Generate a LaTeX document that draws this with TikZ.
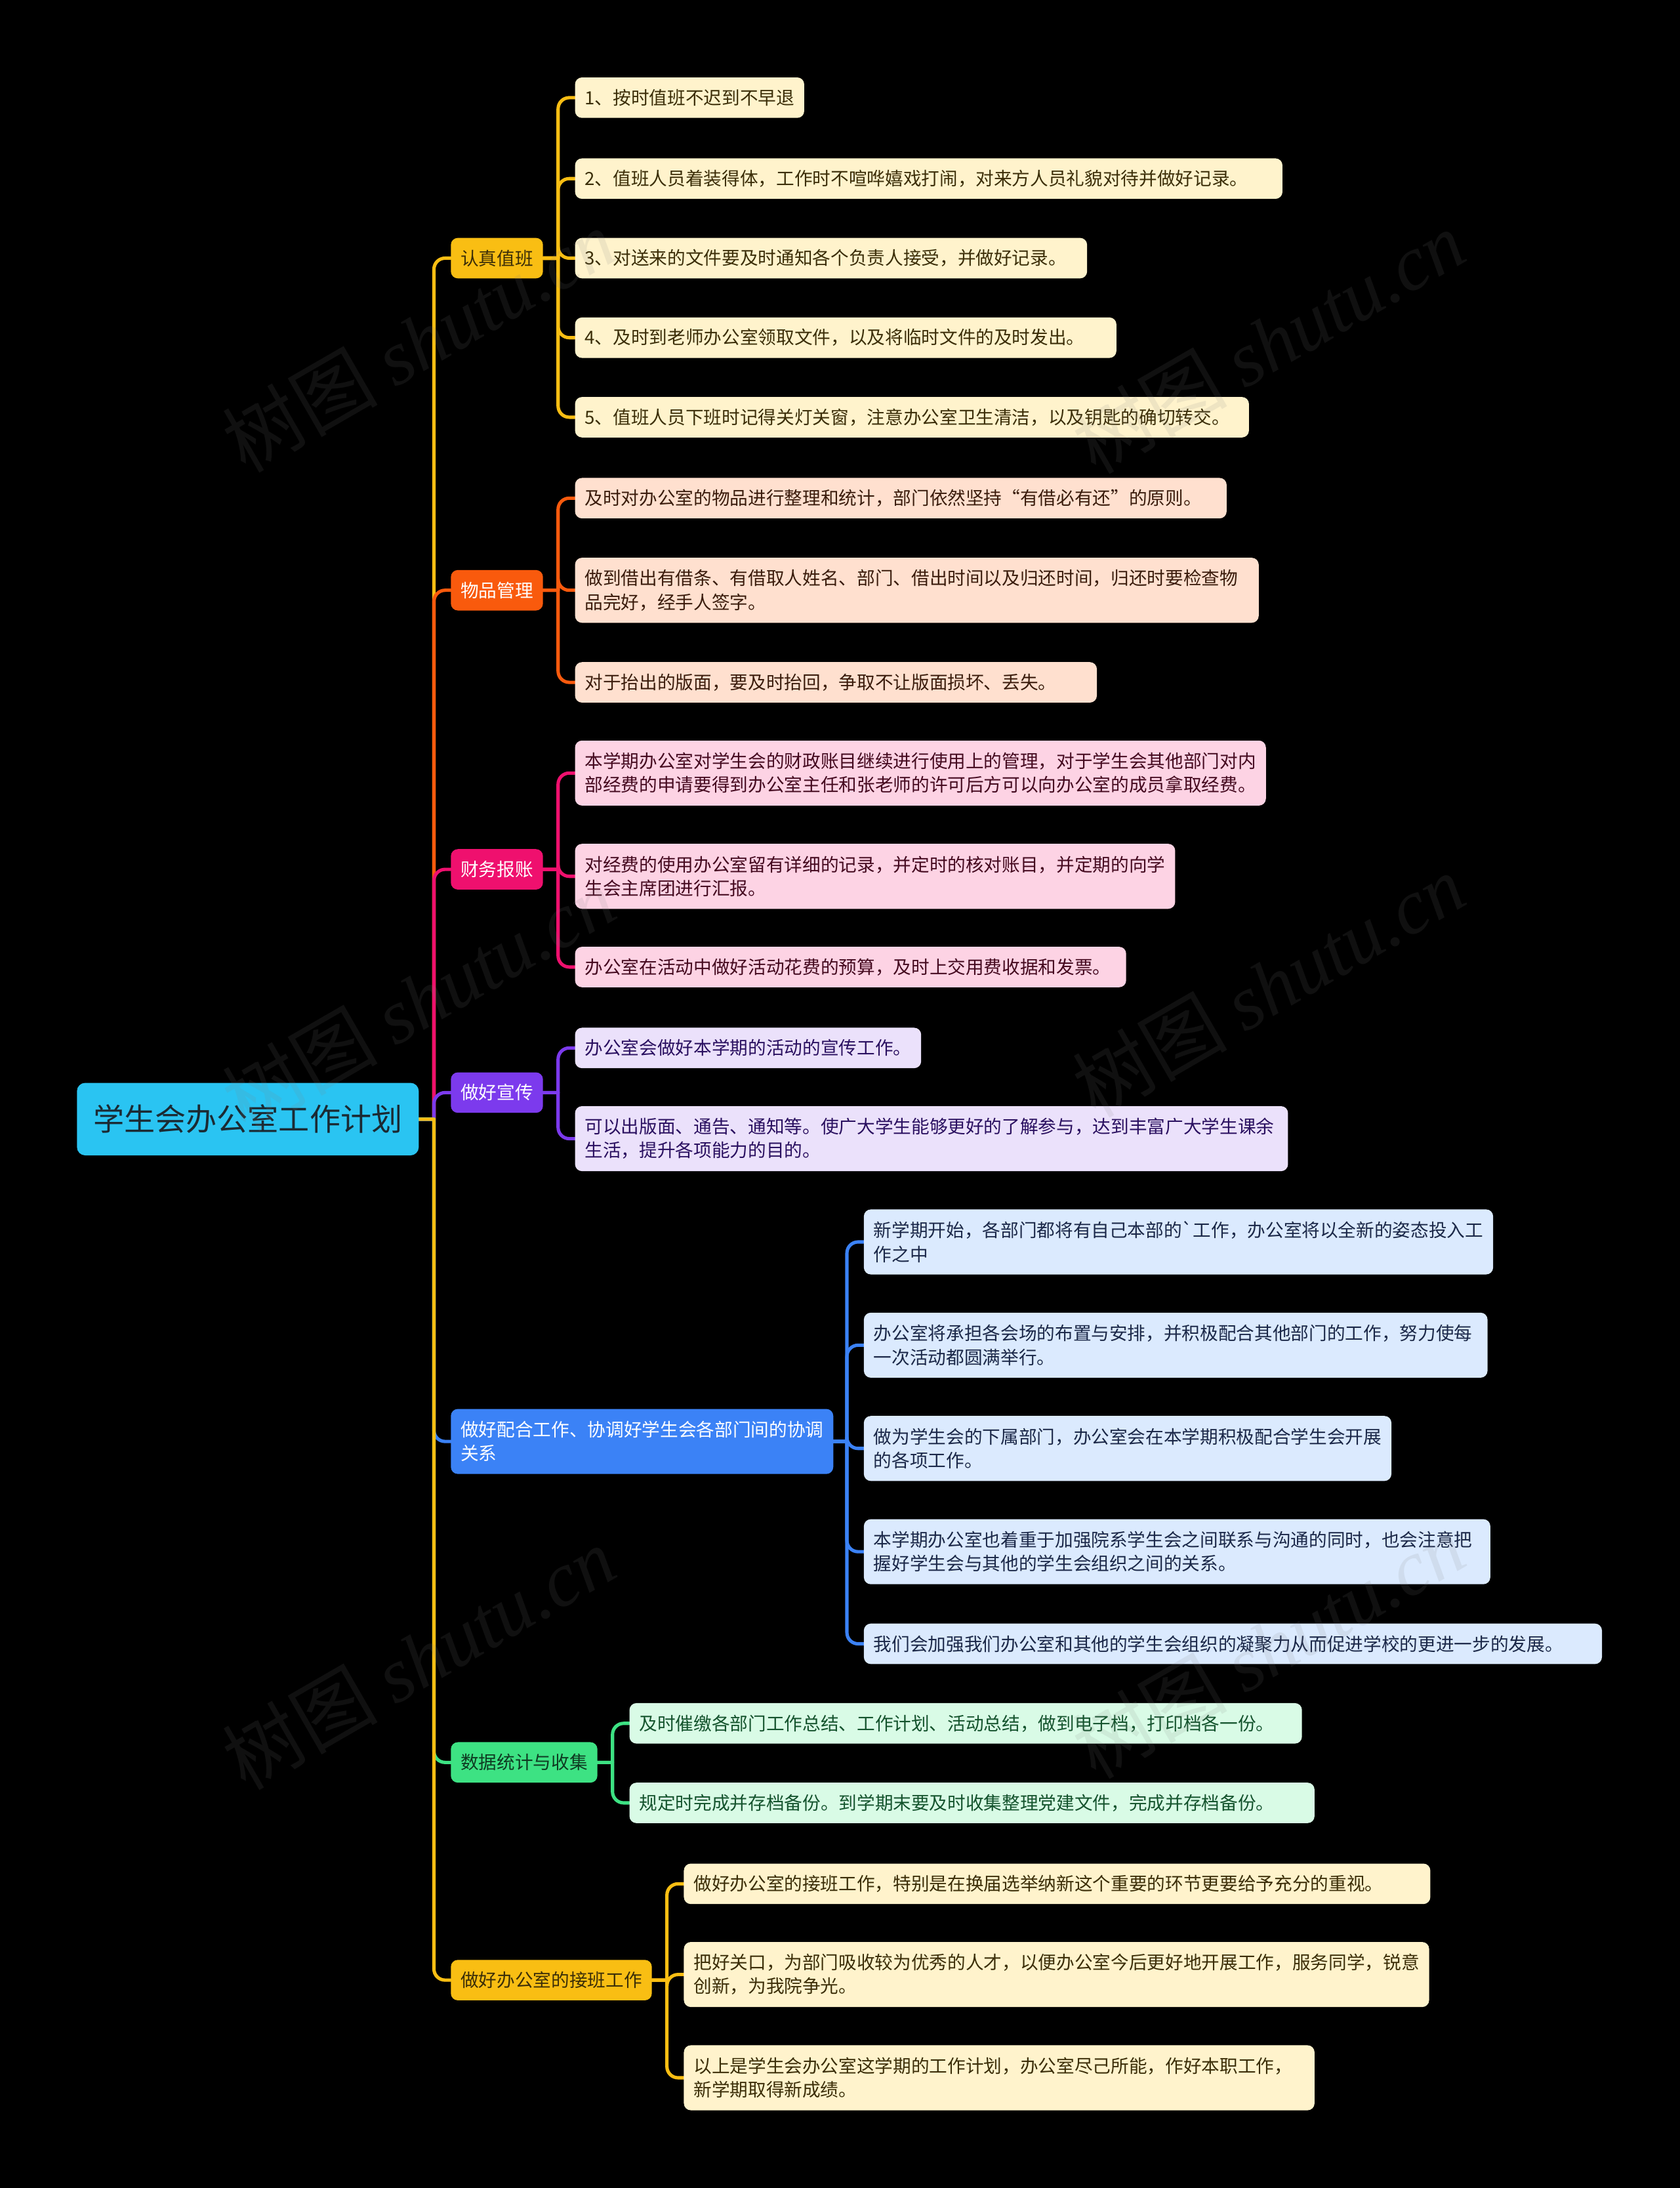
\documentclass[tikz,border=0pt]{standalone}
\usepackage{fontspec}
\setmainfont{Noto Sans CJK SC}
\newfontfamily\wmlatin{Liberation Serif}
\pgfdeclarelayer{bgzero}
\pgfdeclarelayer{bgone}
\pgfsetlayers{bgzero,bgone,main}
\definecolor{cRoot}{HTML}{2AC4F2}
\definecolor{tRoot}{HTML}{1B2A33}
\definecolor{cYb}{HTML}{F9BE13}
\definecolor{cYl}{HTML}{FFF3CC}
\definecolor{tYl}{HTML}{3B2E08}
\definecolor{cOr}{HTML}{F95A0D}
\definecolor{cOl}{HTML}{FFE0CF}
\definecolor{tOl}{HTML}{3A1C0C}
\definecolor{cPk}{HTML}{EF106E}
\definecolor{cPl}{HTML}{FDD3E4}
\definecolor{tPl}{HTML}{44091F}
\definecolor{cPu}{HTML}{7C3AED}
\definecolor{cUl}{HTML}{EBE1FB}
\definecolor{tUl}{HTML}{2A1060}
\definecolor{cBl}{HTML}{3B82F6}
\definecolor{cBll}{HTML}{DBEAFE}
\definecolor{tBl}{HTML}{1B2848}
\definecolor{cGr}{HTML}{3DE283}
\definecolor{cGl}{HTML}{D9FBE6}
\definecolor{tGl}{HTML}{14532D}
\definecolor{tGb}{HTML}{0F3B22}
\newcommand{\linkto}[3]{%
  \path ([xshift=-6mm]#3.west) coordinate (vx);
  \draw[connector,#1] (#2.east) -- (vx |- #2.east) (vx |- #2.east) [rounded corners=4mm] |- (#3.west);}
\begin{document}
\begin{tikzpicture}[x=0.5mm,y=-0.5mm,
  base/.style={rounded corners=2.5mm, inner xsep=3.5mm, inner ysep=1mm, anchor=west, align=left, font=\fontsize{18.5}{24.2}\selectfont},
  one/.style={minimum height=14.5mm},
  two/.style={minimum height=23.3mm},
  bw/.style={text width=#1},
  root/.style={rounded corners=3mm, fill=cRoot, text=tRoot, anchor=west, minimum width=122.5mm, minimum height=26mm, font=\fontsize{31.5}{36}\selectfont},
  leafY/.style={base, fill=cYl, text=tYl},
  leafO/.style={base, fill=cOl, text=tOl},
  leafP/.style={base, fill=cPl, text=tPl},
  leafU/.style={base, fill=cUl, text=tUl},
  leafB/.style={base, fill=cBll, text=tBl},
  leafG/.style={base, fill=cGl, text=tGl},
  connector/.style={line width=1.2mm, line cap=round},
  wm/.style={rotate=30, text=gray, text opacity=0.13, font=\fontsize{79}{85}\selectfont}
]
\begin{pgfonlayer}{bgzero}
\fill[black] (0,0) rectangle (1204,1568);
\end{pgfonlayer}
\useasboundingbox (0,0) rectangle (1204,1568);

% root
\node[root] (root) at (55,802) {学生会办公室工作计划};

% branches
\node[base,one,fill=cYb,text=tYl] (b1) at (323,185) {认真值班};
\node[base,one,fill=cOr,text=white] (b2) at (323,423) {物品管理};
\node[base,one,fill=cPk,text=white] (b3) at (323,623) {财务报账};
\node[base,one,fill=cPu,text=white] (b4) at (323,783) {做好宣传};
\node[base,two,fill=cBl,text=white] (b5) at (323,1033) {做好配合工作、协调好学生会各部门间的协调\\关系};
\node[base,one,fill=cGr,text=tGb] (b6) at (323,1263) {数据统计与收集};
\node[base,one,fill=cYb,text=tYl] (b7) at (323,1419) {做好办公室的接班工作};

% leaves of b1
\node[leafY,one] (a1) at (412,70) {1、按时值班不迟到不早退};
\node[leafY,one,bw=246.5mm] (a2) at (412,128) {2、值班人员着装得体，工作时不喧哗嬉戏打闹，对来方人员礼貌对待并做好记录。};
\node[leafY,one,bw=176.5mm] (a3) at (412,185) {3、对送来的文件要及时通知各个负责人接受，并做好记录。};
\node[leafY,one,bw=187mm] (a4) at (412,242) {4、及时到老师办公室领取文件，以及将临时文件的及时发出。};
\node[leafY,one,bw=234.5mm] (a5) at (412,299) {5、值班人员下班时记得关灯关窗，注意办公室卫生清洁，以及钥匙的确切转交。};

% leaves of b2
\node[leafO,one,bw=226.5mm] (o1) at (412,357) {及时对办公室的物品进行整理和统计，部门依然坚持“有借必有还”的原则。};
\node[leafO,two,bw=238mm] (o2) at (412,423) {做到借出有借条、有借取人姓名、部门、借出时间以及归还时间，归还时要检查物\\品完好，经手人签字。};
\node[leafO,one,bw=180mm] (o3) at (412,489) {对于抬出的版面，要及时抬回，争取不让版面损坏、丢失。};

% leaves of b3
\node[leafP,two] (p1) at (412,554) {本学期办公室对学生会的财政账目继续进行使用上的管理，对于学生会其他部门对内\\部经费的申请要得到办公室主任和张老师的许可后方可以向办公室的成员拿取经费。};
\node[leafP,two] (p2) at (412,628) {对经费的使用办公室留有详细的记录，并定时的核对账目，并定期的向学\\生会主席团进行汇报。};
\node[leafP,one,bw=190.5mm] (p3) at (412,693) {办公室在活动中做好活动花费的预算，及时上交用费收据和发票。};

% leaves of b4
\node[leafU,one] (u1) at (412,751) {办公室会做好本学期的活动的宣传工作。};
\node[leafU,two,bw=248.5mm] (u2) at (412,816) {可以出版面、通告、通知等。使广大学生能够更好的了解参与，达到丰富广大学生课余\\生活，提升各项能力的目的。};

% leaves of b5
\node[leafB,two] (c1) at (619,890) {新学期开始，各部门都将有自己本部的\textasciigrave 工作，办公室将以全新的姿态投入工\\作之中};
\node[leafB,two,bw=216.5mm] (c2) at (619,964) {办公室将承担各会场的布置与安排，并积极配合其他部门的工作，努力使每\\一次活动都圆满举行。};
\node[leafB,two] (c3) at (619,1038) {做为学生会的下属部门，办公室会在本学期积极配合学生会开展\\的各项工作。};
\node[leafB,two,bw=217.5mm] (c4) at (619,1112) {本学期办公室也着重于加强院系学生会之间联系与沟通的同时，也会注意把\\握好学生会与其他的学生会组织之间的关系。};
\node[leafB,one,bw=257.5mm] (c5) at (619,1178) {我们会加强我们办公室和其他的学生会组织的凝聚力从而促进学校的更进一步的发展。};

% leaves of b6
\node[leafG,one,bw=234mm] (g1) at (451,1235) {及时催缴各部门工作总结、工作计划、活动总结，做到电子档，打印档各一份。};
\node[leafG,one,bw=238.5mm] (g2) at (451,1292) {规定时完成并存档备份。到学期末要及时收集整理党建文件，完成并存档备份。};

% leaves of b7
\node[leafY,one,bw=260.5mm] (j1) at (490,1350) {做好办公室的接班工作，特别是在换届选举纳新这个重要的环节更要给予充分的重视。};
\node[leafY,two] (j2) at (490,1415) {把好关口，为部门吸收较为优秀的人才，以便办公室今后更好地开展工作，服务同学，锐意\\创新，为我院争光。};
\node[leafY,two,bw=219mm] (j3) at (490,1489) {以上是学生会办公室这学期的工作计划，办公室尽己所能，作好本职工作，\\新学期取得新成绩。};

\begin{pgfonlayer}{bgone}
% root to branches
\linkto{cYb}{root}{b1}
\linkto{cOr}{root}{b2}
\linkto{cPk}{root}{b3}
\linkto{cPu}{root}{b4}
\linkto{cBl}{root}{b5}
\linkto{cGr}{root}{b6}
\linkto{cYb}{root}{b7}
% b1
\linkto{cYb}{b1}{a1}
\linkto{cYb}{b1}{a2}
\linkto{cYb}{b1}{a3}
\linkto{cYb}{b1}{a4}
\linkto{cYb}{b1}{a5}
% b2
\linkto{cOr}{b2}{o1}
\linkto{cOr}{b2}{o2}
\linkto{cOr}{b2}{o3}
% b3
\linkto{cPk}{b3}{p1}
\linkto{cPk}{b3}{p2}
\linkto{cPk}{b3}{p3}
% b4
\linkto{cPu}{b4}{u1}
\linkto{cPu}{b4}{u2}
% b5
\linkto{cBl}{b5}{c1}
\linkto{cBl}{b5}{c2}
\linkto{cBl}{b5}{c3}
\linkto{cBl}{b5}{c4}
\linkto{cBl}{b5}{c5}
% b6
\linkto{cGr}{b6}{g1}
\linkto{cGr}{b6}{g2}
% b7
\linkto{cYb}{b7}{j1}
\linkto{cYb}{b7}{j2}
\linkto{cYb}{b7}{j3}
\end{pgfonlayer}

% watermarks
\node[wm] (w1) at (300,244) {树图 {\wmlatin\itshape shutu.cn}};
\node[wm] (w2) at (909,245) {树图 {\wmlatin\itshape shutu.cn}};
\node[wm] (w3) at (300,716) {树图 {\wmlatin\itshape shutu.cn}};
\node[wm] (w4) at (909,706) {树图 {\wmlatin\itshape shutu.cn}};
\node[wm] (w5) at (300,1188) {树图 {\wmlatin\itshape shutu.cn}};
\node[wm] (w6) at (909,1180) {树图 {\wmlatin\itshape shutu.cn}};
\end{tikzpicture}
\end{document}
